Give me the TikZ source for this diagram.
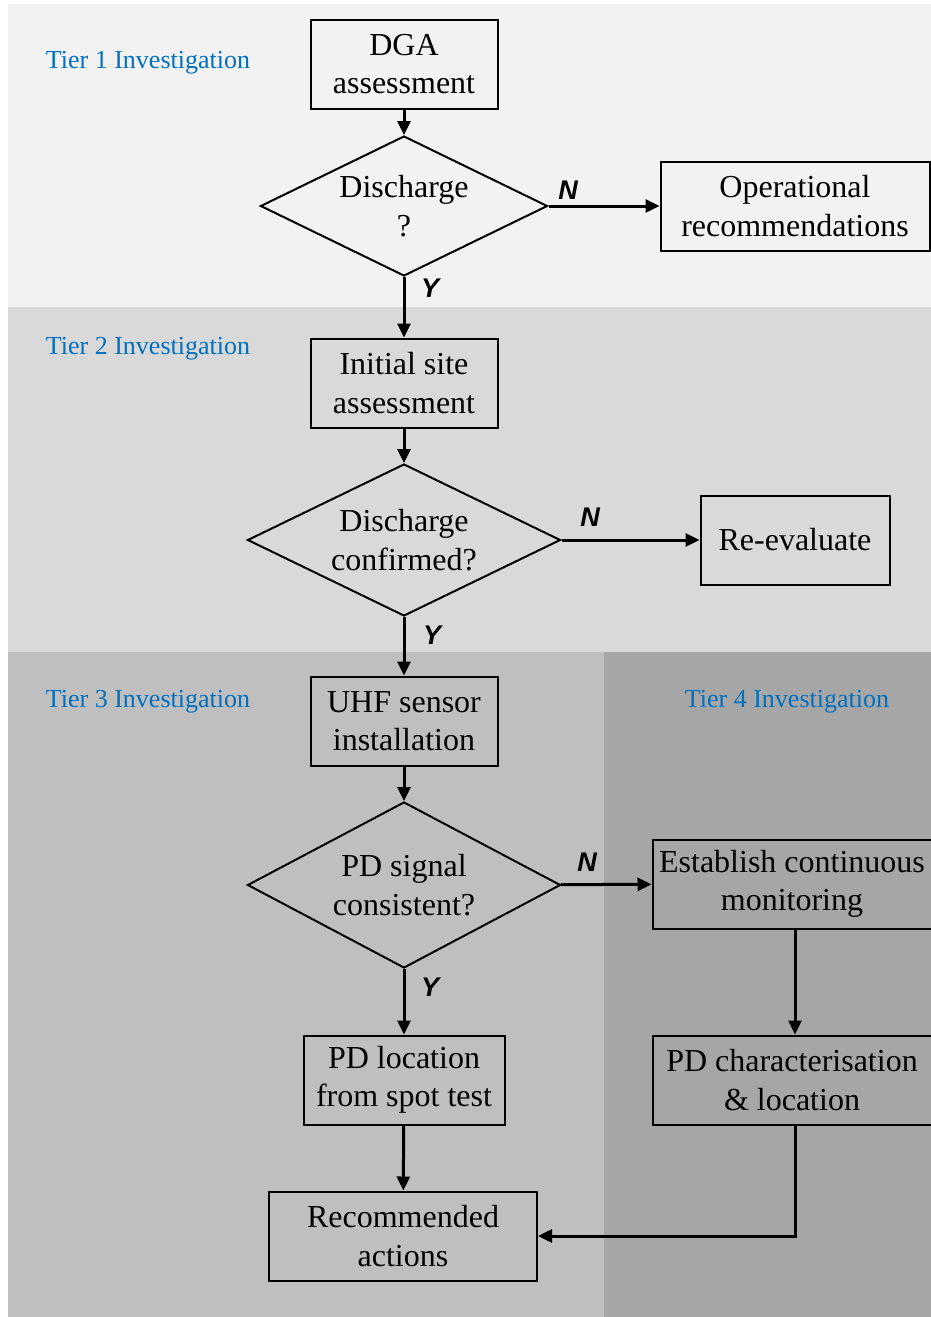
\documentclass[tikz,border=0pt]{standalone}
\usepackage{fontspec}
\setmainfont{Liberation Serif}
\newfontfamily\answerfont{Liberation Sans}
\usepackage{tikz}
\usetikzlibrary{shapes.geometric,arrows.meta}
\definecolor{tierone}{HTML}{F2F2F2}
\definecolor{tiertwo}{HTML}{D9D9D9}
\definecolor{tierthree}{HTML}{BFBFBF}
\definecolor{tierfour}{HTML}{A6A6A6}
\definecolor{tierblue}{HTML}{0070C0}
\tikzset
{
    procbox/.style   = {rectangle, draw=black, line width=2pt, align=center, minimum height=89pt, inner sep=2pt, font=\fontsize{32}{38.5}\selectfont},
    decision/.style  = {diamond, draw=black, line width=2pt, align=center, aspect=2, inner sep=0pt, font=\fontsize{32}{38.5}\selectfont},
    tierlabel/.style = {text=tierblue, inner sep=0pt, font=\fontsize{26}{31}\selectfont},
    answer/.style    = {inner sep=0pt, font=\answerfont\fontsize{27}{30}\bfseries\itshape\selectfont},
    flow/.style      = {->, >={Triangle[length=14pt,width=13pt]}, line width=3pt}
}

\begin{document}
\begin{tikzpicture}[x=1pt, y=-1pt]
    \useasboundingbox (0,0) rectangle (931,1317);
    % tier bands
    \fill [tierone]   (8,4)     rectangle (931,307);
    \fill [tiertwo]   (8,307)   rectangle (931,652);
    \fill [tierthree] (8,652)   rectangle (604,1317);
    \fill [tierfour]  (604,652) rectangle (931,1317);

    \node [tierlabel] (tier1) at (148,63)  {Tier 1 Investigation};
    \node [tierlabel] (tier2) at (148,349) {Tier 2 Investigation};
    \node [tierlabel] (tier3) at (148,702) {Tier 3 Investigation};
    \node [tierlabel] (tier4) at (787,702) {Tier 4 Investigation};

    % steps
    \node [procbox, minimum width=187pt] (dga) at (404,64) {DGA \\ assessment};
    \node [decision, minimum width=287pt, minimum height=140pt] (discharge) at (404,206) {Discharge \\ ?};
    \node [procbox, minimum width=269pt] (operational) at (795,206) {Operational \\ recommendations};
    \node [procbox, minimum width=187pt] (sitecheck) at (404,383) {Initial site \\ assessment};
    \node [decision, minimum width=313pt, minimum height=152pt] (confirmed) at (404,540) {Discharge \\ confirmed?};
    \node [procbox, minimum width=189pt] (reevaluate) at (795,540) {Re-evaluate};
    \node [procbox, minimum width=187pt] (uhf) at (404,721) {UHF sensor \\ installation};
    \node [decision, minimum width=313pt, minimum height=166pt] (consistent) at (404,885) {PD signal \\ consistent?};
    \node [procbox, minimum width=279pt] (monitoring) at (792,884) {Establish continuous \\ monitoring};
    \node [procbox, minimum width=201pt] (spottest) at (404,1080) {PD location \\ from spot test};
    \node [procbox, minimum width=279pt] (characterise) at (792,1080) {PD characterisation \\ \& location};
    \node [procbox, minimum width=268pt] (actions) at (403,1236) {Recommended \\ actions};

    % answers
    \node [answer] (no1)  at (568,190) {N};
    \node [answer] (yes1) at (430,288) {Y};
    \node [answer] (no2)  at (590,517) {N};
    \node [answer] (yes2) at (432,635) {Y};
    \node [answer] (no3)  at (587,862) {N};
    \node [answer] (yes3) at (430,987) {Y};

    % connectors
    \draw [flow] (dga) -- (discharge);
    \draw [flow] (discharge) -- (operational);
    \draw [flow] (discharge) -- (sitecheck);
    \draw [flow] (sitecheck) -- (confirmed);
    \draw [flow] (confirmed) -- (reevaluate);
    \draw [flow] (confirmed) -- (uhf);
    \draw [flow] (uhf) -- (consistent);
    \draw [flow] (consistent) -- (monitoring);
    \draw [flow] (consistent) -- (spottest);
    \draw [flow] ([xshift=3pt]monitoring.south) -- ([xshift=3pt]characterise.north);
    \draw [flow] (spottest) -- (actions);
    \draw [flow] ([xshift=3pt]characterise.south) |- (actions.east);
\end{tikzpicture}
\end{document}
